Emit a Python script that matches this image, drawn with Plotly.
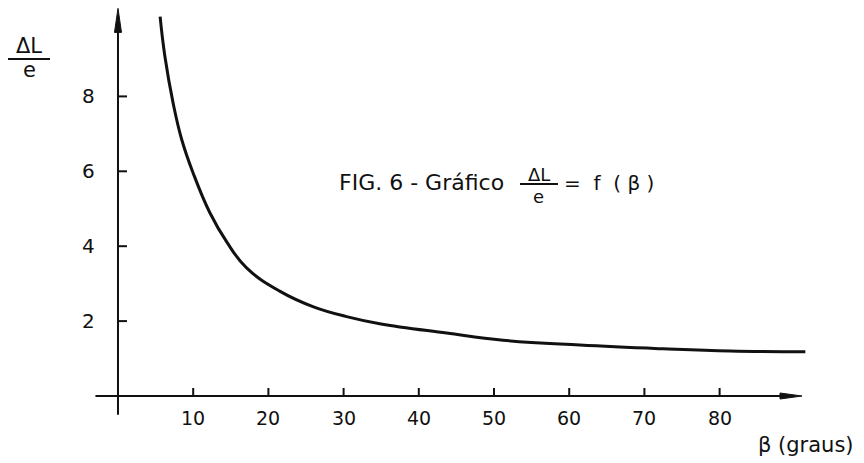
import plotly.graph_objects as go

# Curve ΔL/e versus β (degrees)
beta = [5.6, 6.25, 7.35, 8.47, 10.0, 12.2, 14.5, 17.1, 21.5, 26.0, 30.4,
        34.8, 43.7, 51.2, 61.4, 72.5, 81.4, 91.4]
ratio = [10.13, 9.05, 7.8, 6.85, 5.95, 4.9, 4.1, 3.42, 2.8, 2.38, 2.12,
         1.93, 1.68, 1.49, 1.36, 1.26, 1.20, 1.18]

# Tick values and labels
x_ticks = [10, 20, 30, 40, 50, 60, 70, 80]
x_tick_labels = ["10", "20", "30", "40", "50", "60", "70", "80"]
y_ticks = [2, 4, 6, 8]
y_tick_labels = ["2", "4", "6", "8"]

W, H = 864, 463
X_RANGE = [-15.69, 99.20]
Y_RANGE = [-1.789, 10.574]

INK = "#111111"
FONT = "DejaVu Sans"

# axis extents (data units)
Y_AXIS_BOTTOM, Y_AXIS_TOP = -0.5, 10.35
X_AXIS_LEFT, X_AXIS_RIGHT = -3.0, 90.96

px_x = (X_RANGE[1] - X_RANGE[0]) / W   # data units per pixel (x)
px_y = (Y_RANGE[1] - Y_RANGE[0]) / H   # data units per pixel (y)

fig = go.Figure()

fig.add_trace(go.Scatter(
    x=beta, y=ratio, mode="lines",
    line=dict(color=INK, width=3, shape="spline", smoothing=1.2),
    hoverinfo="skip", showlegend=False,
))

shapes = []
# y axis line + arrowhead
shapes.append(dict(type="line", xref="x", yref="y", x0=0, x1=0,
                   y0=Y_AXIS_BOTTOM, y1=Y_AXIS_TOP - 20 * px_y,
                   line=dict(color=INK, width=2)))
hw = 3.5 * px_x
base = Y_AXIS_TOP - 24 * px_y
shapes.append(dict(type="path", xref="x", yref="y",
                   path=f"M {-hw},{base} L 0,{Y_AXIS_TOP} L {hw},{base} Z",
                   fillcolor=INK, line=dict(color=INK, width=1)))
# x axis line + arrowhead
shapes.append(dict(type="line", xref="x", yref="y", x0=X_AXIS_LEFT,
                   x1=X_AXIS_RIGHT - 18 * px_x, y0=0, y1=0,
                   line=dict(color=INK, width=2)))
hh = 3.0 * px_y
basex = X_AXIS_RIGHT - 22 * px_x
shapes.append(dict(type="path", xref="x", yref="y",
                   path=f"M {basex},{-hh} L {X_AXIS_RIGHT},0 L {basex},{hh} Z",
                   fillcolor=INK, line=dict(color=INK, width=1)))
# tick marks
for t in x_ticks:
    shapes.append(dict(type="line", xref="x", yref="y", x0=t, x1=t,
                       y0=0, y1=8 * px_y, line=dict(color=INK, width=2)))
for t in y_ticks:
    shapes.append(dict(type="line", xref="x", yref="y", x0=0, x1=9 * px_x,
                       y0=t, y1=t, line=dict(color=INK, width=2)))

# fraction bars (paper coordinates)
def pbar(x0, x1, y):
    return dict(type="line", xref="paper", yref="paper",
                x0=x0 / W, x1=x1 / W, y0=1 - y / H, y1=1 - y / H,
                line=dict(color=INK, width=1.8))

shapes.append(pbar(8, 50, 59))
shapes.append(pbar(520, 558, 184))

annotations = []
for t, lab in zip(x_ticks, x_tick_labels):
    annotations.append(dict(x=t, y=-22 * px_y, xref="x", yref="y", text=lab,
                            showarrow=False, xanchor="center", yanchor="middle",
                            font=dict(family=FONT, size=19, color=INK)))
for t, lab in zip(y_ticks, y_tick_labels):
    annotations.append(dict(x=-29 * px_x, y=t, xref="x", yref="y", text=lab,
                            showarrow=False, xanchor="center", yanchor="middle",
                            font=dict(family=FONT, size=20, color=INK)))


def ptext(x, y, text, size, anchor="center"):
    return dict(x=x / W, y=1 - y / H, xref="paper", yref="paper", text=text,
                showarrow=False, xanchor=anchor, yanchor="middle",
                font=dict(family=FONT, size=size, color=INK))


# y axis title ΔL / e
annotations.append(ptext(29, 46, "ΔL", 21))
annotations.append(ptext(29, 70, "e", 21))
# x axis title
annotations.append(ptext(806, 445, "β (graus)", 21))
# figure caption
annotations.append(ptext(337, 182, "FIG. 6 - Gráfico", 22, "left"))
annotations.append(ptext(539, 174, "ΔL", 18))
annotations.append(ptext(538, 196, "e", 18))
annotations.append(ptext(562, 183, "=  f  ( β )", 20, "left"))

fig.update_layout(
    width=W, height=H,
    margin=dict(l=0, r=0, t=0, b=0),
    paper_bgcolor="white", plot_bgcolor="white",
    xaxis=dict(range=X_RANGE, visible=False, fixedrange=True),
    yaxis=dict(range=Y_RANGE, visible=False, fixedrange=True),
    shapes=shapes, annotations=annotations,
    showlegend=False,
)

fig.write_html("out.html")
